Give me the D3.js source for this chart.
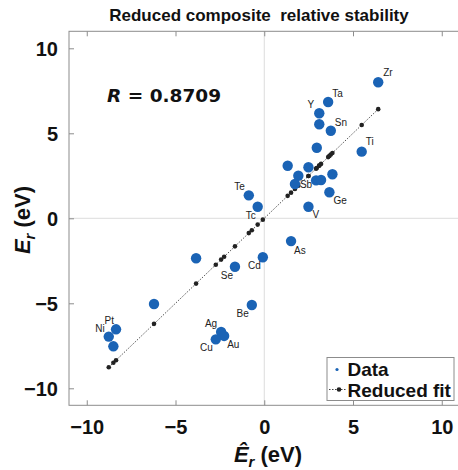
<!DOCTYPE html>
<html>
<head>
<meta charset="utf-8">
<script src="https://cdn.jsdelivr.net/npm/d3@7"></script>
<style>
  html, body { margin: 0; padding: 0; background: #fff; }
  svg { display: block; font-family: "Liberation Sans", Arial, sans-serif; }
</style>
</head>
<body>
<div id="chart"></div>
<script>
// element names, predicted (x) and computed (y) relative stability, eV
var names = ["Zr", "Ta", "Y", "", "Sn", "", "Ti", "", "", "", "", "", "", "Sb", "Ge", "V",
             "Tc", "Te", "As", "", "Se", "Cd", "", "Be", "Pt", "Ni", "", "Ag", "Au", "Cu"];
var predicted = [6.42, 3.6, 3.1, 3.1, 3.75, 2.96, 5.49, 1.32, 2.49, 1.92, 3.84, 2.92, 3.2, 1.73, 3.67, 2.49,
                 -0.37, -0.87, 1.51, -3.84, -1.65, -0.08, -6.21, -0.7, -8.35, -8.76, -8.5, -2.43, -2.26, -2.73];
var computed = [8.0, 6.84, 6.18, 5.53, 5.15, 4.15, 3.92, 3.09, 3.0, 2.5, 2.59, 2.23, 2.25, 2.02, 1.53, 0.68,
                0.68, 1.35, -1.34, -2.35, -2.85, -2.29, -5.04, -5.1, -6.53, -6.96, -7.53, -6.69, -6.92, -7.12];
var xTicks = [-10, -5, 0, 5, 10];
var yTicks = [-10, -5, 0, 5, 10];
var rValue = "0.8709";

var width = 458, height = 470;
var blue = "#1a63b5";

var svg = d3.select("#chart").append("svg")
    .attr("width", width)
    .attr("height", height);

var x = d3.scaleLinear().domain([-11, 11]).range([69, 459.5]);
var y = d3.scaleLinear().domain([-11, 11]).range([405.3, 31.3]);

var data = names.map(function (n, i) {
    return {name: n, x: predicted[i], y: computed[i]};
});

// zero lines
svg.append("line")
    .attr("x1", x(0)).attr("x2", x(0))
    .attr("y1", y.range()[1]).attr("y2", y.range()[0])
    .style("stroke", "#dcdcdc");
svg.append("line")
    .attr("x1", x.range()[0]).attr("x2", x.range()[1])
    .attr("y1", y(0)).attr("y2", y(0))
    .style("stroke", "#dcdcdc");

// axes (ticks pointing inward, like matlab)
var fmt = d3.format("");
var gx = svg.append("g")
    .attr("transform", "translate(0," + y.range()[0] + ")")
    .call(d3.axisBottom(x).tickValues(xTicks).tickSize(-5).tickPadding(14).tickFormat(fmt));
var gxTop = svg.append("g")
    .attr("transform", "translate(0," + y.range()[1] + ")")
    .call(d3.axisTop(x).tickValues(xTicks).tickSize(-5).tickFormat(""));
var gy = svg.append("g")
    .attr("transform", "translate(" + x.range()[0] + ",0)")
    .call(d3.axisLeft(y).tickValues(yTicks).tickSize(-5).tickPadding(11).tickFormat(fmt));

[gx, gxTop, gy].forEach(function (g) {
    g.select(".domain").remove();
    g.selectAll(".tick line").style("stroke", "#8c8c8c");
    g.selectAll("text")
        .style("font-family", "'Liberation Sans', Arial, sans-serif")
        .style("font-weight", "bold")
        .style("font-size", "20px")
        .style("fill", "#111");
});
gx.selectAll("text").attr("dy", "0.72em");
gy.selectAll("text").attr("dy", "0.36em");

// plot box
svg.append("rect")
    .attr("x", x.range()[0])
    .attr("y", y.range()[1])
    .attr("width", x.range()[1] - x.range()[0])
    .attr("height", y.range()[0] - y.range()[1])
    .style("fill", "none")
    .style("stroke", "#8c8c8c");

// reduced fit: prediction vs itself
var fitData = data.slice().sort(function (a, b) { return a.x - b.x; });
var line = d3.line()
    .x(function (d) { return x(d.x); })
    .y(function (d) { return y(d.x); });
svg.append("path")
    .datum(fitData)
    .attr("d", line)
    .style("fill", "none")
    .style("stroke", "#555")
    .style("stroke-width", 1)
    .style("stroke-dasharray", "1.5,1.5");
svg.selectAll(".fit")
    .data(fitData)
    .enter().append("circle")
    .attr("class", "fit")
    .attr("cx", function (d) { return x(d.x); })
    .attr("cy", function (d) { return y(d.x); })
    .attr("r", 2.3)
    .style("fill", "#222");

// data points
svg.selectAll(".pt")
    .data(data)
    .enter().append("circle")
    .attr("class", "pt")
    .attr("cx", function (d) { return x(d.x); })
    .attr("cy", function (d) { return y(d.y); })
    .attr("r", 5.2)
    .style("fill", blue);

// label placement (offset from point, anchor)
var labelPos = {
    Zr: [5, -6, "start"], Ta: [4, -5, "start"], Y: [-5, -5, "end"], Sn: [4, -5, "start"],
    Ti: [4, -7, "start"], Sb: [5, 4, "start"], Ge: [4, 12, "start"], V: [4, 11, "start"],
    Tc: [-2, 12, "end"], Te: [-4, -5, "end"], As: [3, 13, "start"], Cd: [-2, 12, "end"],
    Se: [-2, 12, "end"], Be: [-3, 12, "end"], Pt: [-2, -5, "end"], Ni: [-4, -5, "end"],
    Ag: [-4, -5, "end"], Au: [3, 12, "start"], Cu: [-3, 12, "end"]
};
svg.selectAll(".lbl")
    .data(data.filter(function (d) { return d.name; }))
    .enter().append("text")
    .attr("class", "lbl")
    .attr("x", function (d) { return x(d.x) + labelPos[d.name][0]; })
    .attr("y", function (d) { return y(d.y) + labelPos[d.name][1]; })
    .attr("text-anchor", function (d) { return labelPos[d.name][2]; })
    .style("font-size", "10px")
    .style("fill", "#222")
    .text(function (d) { return d.name; });

// title
svg.append("text")
    .attr("x", 259).attr("y", 21)
    .attr("text-anchor", "middle")
    .attr("xml:space", "preserve")
    .style("font-weight", "bold")
    .style("font-size", "17px")
    .style("fill", "#111")
    .text("Reduced composite  relative stability");

// correlation
var rText = svg.append("text")
    .attr("x", 107).attr("y", 102)
    .style("font-family", "'DejaVu Sans', Verdana, sans-serif")
    .style("font-weight", "bold")
    .style("font-size", "18.5px")
    .style("fill", "#111");
rText.append("tspan").style("font-style", "italic").text("R");
rText.append("tspan").text(" = " + rValue);

// axis labels
var xl = svg.append("text")
    .attr("x", 268).attr("y", 462)
    .attr("text-anchor", "middle")
    .style("font-weight", "bold")
    .style("font-size", "22px")
    .style("fill", "#111");
xl.append("tspan").style("font-style", "italic").text("\u00CA");
xl.append("tspan").style("font-style", "italic").style("font-size", "15px").attr("dy", 5).text("r");
xl.append("tspan").attr("dy", -5).text(" (eV)");

var yl = svg.append("text")
    .attr("transform", "translate(30,220) rotate(-90)")
    .attr("text-anchor", "middle")
    .style("font-weight", "bold")
    .style("font-size", "22px")
    .style("fill", "#111");
yl.append("tspan").style("font-style", "italic").text("E");
yl.append("tspan").style("font-style", "italic").style("font-size", "15px").attr("dy", 5).text("r");
yl.append("tspan").attr("dy", -5).text(" (eV)");

// legend
var lg = svg.append("g");
lg.append("rect")
    .attr("x", 327).attr("y", 357.5)
    .attr("width", 127).attr("height", 43)
    .style("fill", "#fff")
    .style("stroke", "#8c8c8c");
lg.append("circle")
    .attr("cx", 337).attr("cy", 369.5).attr("r", 1.6)
    .style("fill", blue);
lg.append("line")
    .attr("x1", 329).attr("x2", 347)
    .attr("y1", 389.5).attr("y2", 389.5)
    .style("stroke", "#444")
    .style("stroke-dasharray", "1.5,1.5");
lg.append("circle")
    .attr("cx", 339).attr("cy", 389.5).attr("r", 2.3)
    .style("fill", "#222");
lg.append("text")
    .attr("x", 347.5).attr("y", 376)
    .style("font-weight", "bold").style("font-size", "19px").style("fill", "#111")
    .text("Data");
lg.append("text")
    .attr("x", 347.5).attr("y", 396.5)
    .style("font-weight", "bold").style("font-size", "19px").style("fill", "#111")
    .text("Reduced fit");
</script>
</body>
</html>
